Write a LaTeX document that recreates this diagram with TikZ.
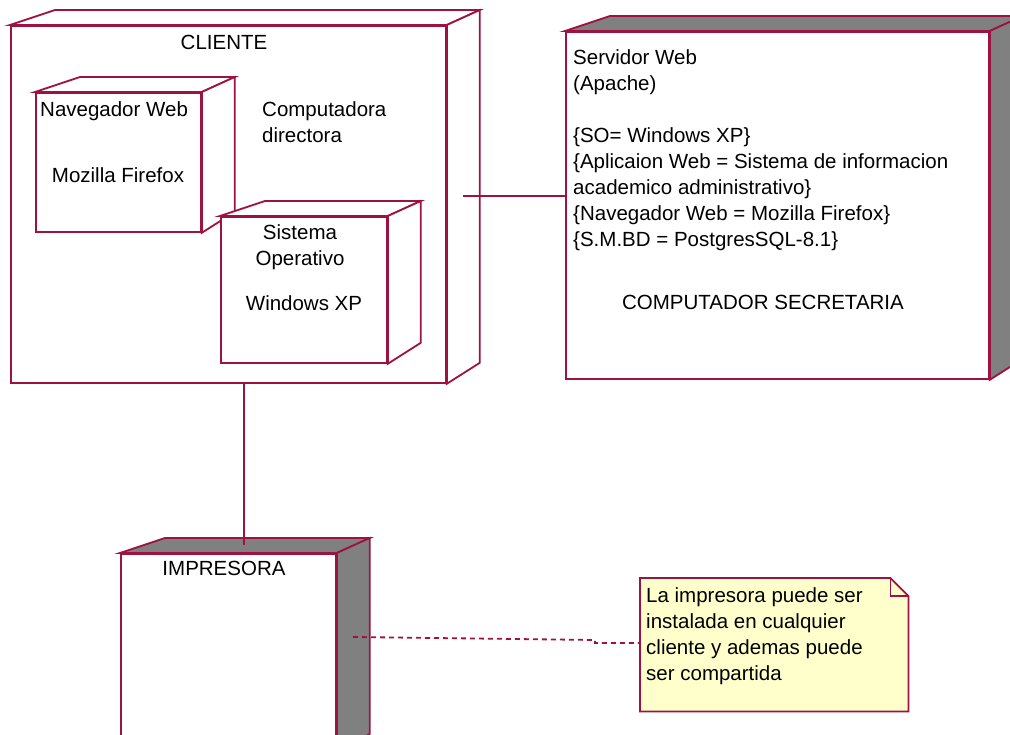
\documentclass[tikz,border=0pt]{standalone}
\usepackage{fontspec}
\setmainfont{Liberation Sans}
\usetikzlibrary{calc}

\definecolor{rosa}{RGB}{158,18,66}
\definecolor{caragris}{RGB}{128,128,128}
\definecolor{notaamarilla}{RGB}{255,255,204}

% caras superior y lateral de un nodo 3D
\newcommand{\caras}[2]{%
  \filldraw[linea, fill=#2] (#1.north west) -- ++(45,-15) -- ($(#1.north east)+(33,-15)$) -- (#1.north east) -- cycle;
  \filldraw[linea, fill=#2] (#1.north east) -- ++(33,-15) -- ($(#1.south east)+(33,-21)$) -- (#1.south east) -- cycle;
  \draw[linea, line width=2.8pt] (#1.north east) -- (#1.south east);
}

\begin{document}
\begin{tikzpicture}[
  x=1pt, y=-1pt,
  linea/.style={draw=rosa, line width=1.8pt, line join=miter},
  frente/.style={linea, fill=white, rectangle, inner sep=0pt, anchor=north west},
  texto/.style={font=\fontsize{20.5}{26}\selectfont, inner sep=0pt, anchor=base},
  textoizq/.style={texto, anchor=base west, align=left},
  enlace/.style={draw=rosa, line width=1.8pt},
  punteada/.style={draw=rosa, line width=1.8pt, dash pattern=on 5pt off 4pt}
]
  \path[use as bounding box, clip] (0,0) rectangle (1010,735);

  % --- CLIENTE ---
  \node[frente, minimum width=435pt, minimum height=357pt] (cli) at (10,25) {};
  \caras{cli}{white}
  \node[texto] (cli_t) at (224,50) {CLIENTE};
  \node[textoizq] (cli_pc) at (262,143) {Computadora\\directora}; % base = ultima linea

  % navegador web
  \node[frente, minimum width=165pt, minimum height=139pt] (nav) at (35,92) {};
  \caras{nav}{white}
  \node[textoizq] (nav_t) at (40,117) {Navegador Web};
  \node[texto] (nav_m) at (118,183) {Mozilla Firefox};

  % sistema operativo
  \node[frente, minimum width=166pt, minimum height=146pt] (so) at (220,216) {};
  \caras{so}{white}
  \node[texto, align=center] (so_t) at (300,266) {Sistema\\Operativo};
  \node[texto] (so_w) at (304,311) {Windows XP};

  % --- COMPUTADOR SECRETARIA ---
  \node[frente, minimum width=423pt, minimum height=347pt] (serv) at (565,31) {};
  \caras{serv}{caragris}
  \node[textoizq] (serv_t) at (573,247) {Servidor Web\\(Apache)\\[26pt]
    \{SO= Windows XP\}\\
    \{Aplicaion Web = Sistema de informacion\\
    academico administrativo\}\\
    \{Navegador Web = Mozilla Firefox\}\\
    \{S.M.BD = PostgresSQL-8.1\}};
  \node[texto] (serv_n) at (763,310) {COMPUTADOR SECRETARIA};

  % --- IMPRESORA ---
  \node[frente, minimum width=215pt, minimum height=200pt] (imp) at (120,553) {};
  \caras{imp}{caragris}
  \node[texto] (imp_t) at (224,575) {IMPRESORA};

  % --- nota ---
  \node[rectangle, inner sep=0pt, anchor=north west, minimum width=268pt, minimum height=133pt] (nota) at (640,578) {};
  \filldraw[linea, fill=notaamarilla] (nota.north west) -- ($(nota.north east)+(-18,0)$) -- ($(nota.north east)+(0,18)$)
    -- (nota.south east) -- (nota.south west) -- cycle;
  \draw[linea] ($(nota.north east)+(-18,0)$) -- ++(0,18) -- ++(18,0);
  \node[textoizq] (nota_t) at (646,680) {La impresora puede ser\\instalada en cualquier\\cliente y ademas puede\\ser compartida};

  % conexiones
  \coordinate (cli_der) at (463,196);
  \coordinate (imp_sup) at (244,545);
  \coordinate (imp_der) at (353,637);
  \coordinate (quiebre) at (595,640);
  \draw[enlace] (cli_der) -- (cli_der -| serv.west);
  \draw[enlace] (imp_sup |- cli.south) -- (imp_sup);
  \draw[punteada] (imp_der) -- (quiebre) -- (quiebre |- 0,643) -- (nota.west |- 0,643);
\end{tikzpicture}
\end{document}
